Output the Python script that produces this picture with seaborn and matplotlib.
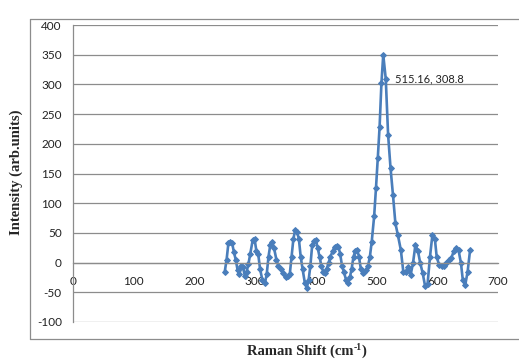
import matplotlib
matplotlib.use("Agg")
import matplotlib.pyplot as plt
from matplotlib.lines import Line2D
from matplotlib.transforms import offset_copy
import seaborn as sns
import pandas as pd

raman_shift = [250, 253, 256, 259, 262, 265, 268, 271, 274, 277, 280, 283, 286, 289,
               292, 296, 299, 302, 305, 308, 312, 316, 319, 322, 325, 328, 331, 335,
               338, 342, 346, 350, 354, 357, 360, 363, 366, 369, 372, 375, 378, 382,
               385, 388, 391, 394, 397, 400, 403, 406, 409, 412, 415, 418, 421, 424,
               428, 431, 434, 437, 440, 443, 446, 450, 453, 456, 459, 462, 465, 468,
               471, 474, 477, 480, 483, 486, 489, 492, 496, 499, 502, 505, 508, 511,
               515.16, 519, 523, 527, 531, 535, 540, 544, 548, 552, 556, 560, 564,
               568, 572, 576, 580, 584, 588, 592, 596, 599, 603, 607, 611, 615, 619,
               623, 627, 631, 635, 639, 642, 646, 650, 654]
intensity = [-15, 5, 33, 35, 33, 18, 5, -12, -20, -5, -8, -22, -15, -2,
             15, 38, 40, 20, 15, -10, -30, -35, -20, 10, 30, 35, 25, 5,
             -5, -10, -18, -25, -22, -20, 10, 40, 55, 52, 40, 10, -10, -35,
             -42, -30, -5, 30, 36, 38, 25, 10, -5, -15, -18, -10, 0, 10,
             20, 27, 28, 27, 15, -5, -15, -30, -34, -25, -10, 10, 20, 22,
             10, -10, -17, -15, -12, -5, 10, 35, 78, 125, 176, 229, 302, 350,
             308.8, 215, 159, 114, 66, 47, 21, -15, -15, -7, -21, -1, 30,
             20, -1, -18, -40, -36, 10, 47, 40, 10, -4, -6, -6, -1, 5,
             7, 19, 24, 21, -1, -29, -38, -15, 21]

x_ticks = [0, 100, 200, 300, 400, 500, 600, 700]
y_ticks = [-100, -50, 0, 50, 100, 150, 200, 250, 300, 350, 400]
peak_label = "515.16, 308.8"
peak_point = (515.16, 308.8)

df = pd.DataFrame({"shift": raman_shift, "intensity": intensity})

sns.set_style("white")
plt.rcParams["font.family"] = ["Lato", "DejaVu Sans"]

fig = plt.figure(figsize=(5.19, 3.60), dpi=100)
ax = fig.add_axes([73/519, 1-322/360, (498-73)/519, (322-25)/360])

blue = "#4A7EBB"
sns.lineplot(data=df, x="shift", y="intensity", ax=ax, color=blue, linewidth=1.9,
             marker="D", markersize=3.0, markeredgecolor=blue, sort=False)

ax.set_xlim(0, 700)
ax.set_ylim(-100, 400)
ax.set_xticks(x_ticks)
ax.set_yticks(y_ticks)
ax.set_xticklabels([str(v) for v in x_ticks])
ax.set_yticklabels([str(v) for v in y_ticks])
ax.set_xlabel("")
ax.set_ylabel("")

grid_c = "#8C8C8C"
ax.yaxis.grid(True, color=grid_c, linewidth=0.9)
ax.xaxis.grid(False)
ax.set_axisbelow(True)
for s in ["top", "right"]:
    ax.spines[s].set_visible(False)
ax.spines["bottom"].set_position(("data", 0))
ax.spines["bottom"].set_color(grid_c)
ax.spines["bottom"].set_linewidth(0.9)
ax.spines["left"].set_color(grid_c)
ax.spines["left"].set_linewidth(0.9)
ax.tick_params(axis="y", direction="out", length=4, width=0.9, color=grid_c,
               labelsize=8.5, pad=4, labelcolor="#222222")
ax.tick_params(axis="x", direction="out", length=4, width=0.9, color=grid_c,
               labelsize=8.5, pad=6, labelcolor="#222222")

ax.annotate(peak_label, xy=peak_point, xytext=(7, 0), textcoords="offset points",
            ha="left", va="center", fontsize=8, color="#222222")

# chart area border
bc = "#8C8C8C"
l = 30/519
t = 1 - 19/360
b = 1 - 339/360
fig.add_artist(Line2D([l, l], [b, t], transform=fig.transFigure, color=bc, lw=0.9))
fig.add_artist(Line2D([l, 1.0], [t, t], transform=fig.transFigure, color=bc, lw=0.9))
fig.add_artist(Line2D([l, 1.0], [b, b], transform=fig.transFigure, color=bc, lw=0.9))

serif = ["Liberation Serif", "DejaVu Serif"]
fig.text(16/519, 1-172/360, "Intensity (arb.units)", rotation=90, ha="center", va="center",
         family=serif, fontweight="bold", fontsize=10.5)

# x axis title with a small raised "-1"
renderer = fig.canvas.get_renderer()
y_base = 1 - 355/360
t1 = fig.text(247/519, y_base, "Raman Shift (cm", ha="left", va="baseline",
              family=serif, fontweight="bold", fontsize=10.5)
w1 = t1.get_window_extent(renderer).width
t2 = fig.text(247/519 + w1/519, y_base + 5/360, "-1", ha="left", va="baseline",
              family=serif, fontweight="bold", fontsize=7)
w2 = t2.get_window_extent(renderer).width
fig.text(247/519 + (w1 + w2)/519, y_base, ")", ha="left", va="baseline",
         family=serif, fontweight="bold", fontsize=10.5)

fig.savefig("out.png", dpi=100)
